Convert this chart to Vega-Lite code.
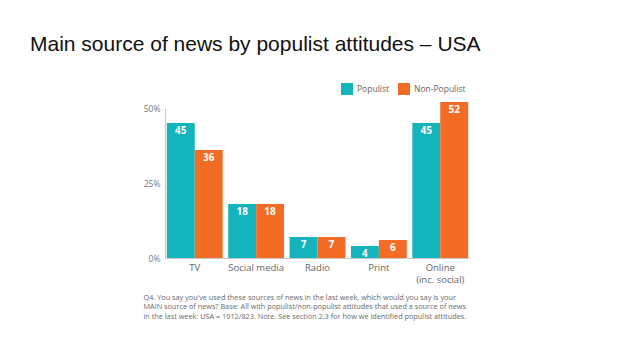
{
  "$schema": "https://vega.github.io/schema/vega-lite/v6.json",
  "autosize": {"type": "none"},
  "width": 305,
  "height": 150,
  "padding": {"left": 165, "top": 108, "right": 168, "bottom": 101},
  "background": "white",
  "config": {"view": {"stroke": null}, "font": "Open Sans"},
  "title": {
    "text": "Main source of news by populist attitudes – USA",
    "anchor": "start",
    "frame": "group",
    "dx": -135,
    "offset": 28,
    "font": "Liberation Sans",
    "fontSize": 21,
    "fontWeight": "normal",
    "color": "#111111"
  },
  "data": {
    "values": [
      {"source": "TV", "group": "Populist", "value": 45},
      {"source": "TV", "group": "Non-Populist", "value": 36},
      {"source": "Social media", "group": "Populist", "value": 18},
      {"source": "Social media", "group": "Non-Populist", "value": 18},
      {"source": "Radio", "group": "Populist", "value": 7},
      {"source": "Radio", "group": "Non-Populist", "value": 7},
      {"source": "Print", "group": "Populist", "value": 4},
      {"source": "Print", "group": "Non-Populist", "value": 6},
      {"source": "Online|(inc. social)", "group": "Populist", "value": 45},
      {"source": "Online|(inc. social)", "group": "Non-Populist", "value": 52}
    ]
  },
  "encoding": {
    "x": {
      "field": "source",
      "type": "nominal",
      "sort": null,
      "scale": {"paddingInner": 0.09, "paddingOuter": 0.03},
      "axis": {
        "labelAngle": 0,
        "ticks": false,
        "domainColor": "#c8c8c8",
        "labelColor": "#666666",
        "labelFontSize": 9.5,
        "labelPadding": 4,
        "labelExpr": "split(datum.label, '|')",
        "labelLineHeight": 12,
        "title": [
          "Q4. You say you've used these sources of news in the last week, which would you say is your",
          "MAIN source of news? Base: All with populist/non-populist attitudes that used a source of news",
          "in the last week: USA = 1012/823. Note. See section 2.3 for how we identified populist attitudes."
        ],
        "titleAnchor": "start",
        "titleAlign": "left",
        "titleBaseline": "top",
        "titleX": -22,
        "titleY": 35,
        "titleFontSize": 7.3,
        "titleFontWeight": "normal",
        "titleColor": "#6a6a6a",
        "titleLineHeight": 9.5
      }
    },
    "xOffset": {"field": "group", "type": "nominal", "sort": ["Populist", "Non-Populist"]},
    "y": {
      "field": "value",
      "type": "quantitative",
      "scale": {"domain": [0, 50], "nice": false, "clamp": false},
      "axis": {
        "values": [0, 25, 50],
        "labelExpr": "datum.value + '%'",
        "grid": false,
        "ticks": false,
        "domainColor": "#c8c8c8",
        "labelColor": "#777777",
        "labelFontSize": 8.5,
        "labelPadding": 5,
        "title": null
      }
    }
  },
  "layer": [
    {
      "mark": {"type": "bar", "clip": false},
      "encoding": {
        "color": {
          "field": "group",
          "type": "nominal",
          "sort": ["Populist", "Non-Populist"],
          "scale": {"domain": ["Populist", "Non-Populist"], "range": ["#14b4bc", "#f36c26"]},
          "legend": {
            "orient": "none",
            "legendX": 176,
            "legendY": -25,
            "direction": "horizontal",
            "title": null,
            "symbolType": "square",
            "symbolSize": 144,
            "symbolStrokeWidth": 0,
            "symbolOpacity": 1,
            "labelFontSize": 8.5,
            "labelColor": "#666666",
            "columnPadding": 8,
            "labelOffset": 4
          }
        }
      }
    },
    {
      "mark": {"type": "text", "baseline": "top", "dy": 3, "color": "white", "fontWeight": "bold", "fontSize": 10},
      "encoding": {"text": {"field": "value", "type": "quantitative"}}
    }
  ]
}
